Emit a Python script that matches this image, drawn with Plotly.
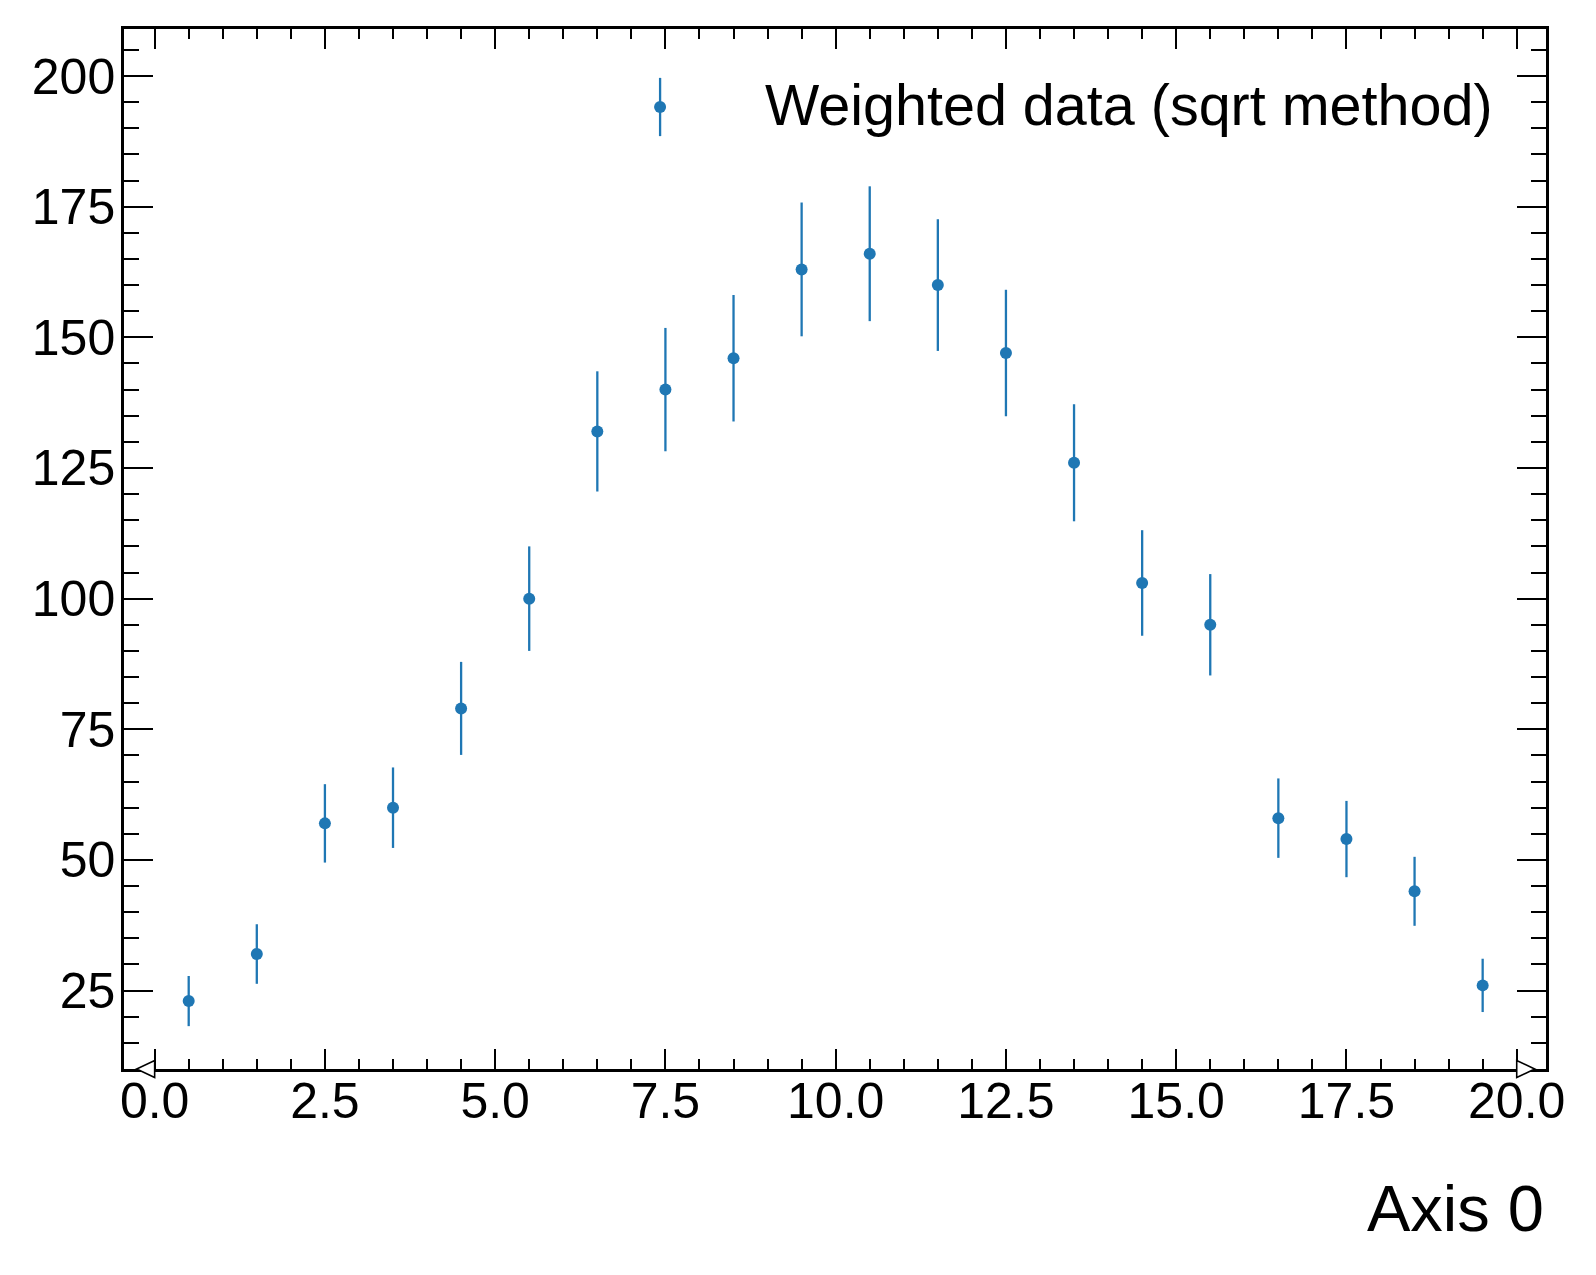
import plotly.graph_objects as go

# bin centres, weighted counts and their sqrt errors
bin_centers = [0.5, 1.5, 2.5, 3.5, 4.5, 5.5, 6.5, 7.5, 8.5, 9.5,
               10.5, 11.5, 12.5, 13.5, 14.5, 15.5, 16.5, 17.5, 18.5, 19.5]
counts = [23, 32, 57, 60, 79, 100, 132, 140, 146, 163,
          166, 160, 147, 126, 103, 95, 58, 54, 44, 26]
errors = [4.8, 5.7, 7.5, 7.7, 8.9, 10.0, 11.5, 11.8, 12.1, 12.8,
          12.9, 12.6, 12.1, 11.2, 10.1, 9.7, 7.6, 7.3, 6.6, 5.1]
flow_edges = [0.0, 20.0]
x_ticks = [0.0, 2.5, 5.0, 7.5, 10.0, 12.5, 15.0, 17.5, 20.0]
y_ticks = [25, 50, 75, 100, 125, 150, 175, 200]

legend_label = "Weighted data (sqrt method)"
x_title = "Axis 0"

BLUE = "#1f77b4"
FONT = "Liberation Sans, Arial, sans-serif"

fig = go.Figure()

fig.add_trace(go.Scatter(
    x=bin_centers, y=counts, mode="markers",
    marker=dict(color=BLUE, size=12),
    error_y=dict(type="data", array=errors, width=0, thickness=2.3, color=BLUE),
    showlegend=False, hoverinfo="x+y"))

# legend entry drawn on a hidden overlay axis so the error bar shows up
fig.add_trace(go.Scatter(
    x=[0.377], y=[0.925], mode="markers", xaxis="x2", yaxis="y2",
    marker=dict(color=BLUE, size=12),
    error_y=dict(type="data", array=[0.028], width=0, thickness=2.3, color=BLUE),
    showlegend=False, hoverinfo="skip"))

# flow-bin triangles at both ends of the x axis
shapes = []
for edge, path in zip(flow_edges, ["M0,-8.5 L-18,0 L0,8.5 Z", "M0,-8.5 L18,0 L0,8.5 Z"]):
    shapes.append(dict(type="path", xref="x", yref="paper", xsizemode="pixel",
                       ysizemode="pixel", xanchor=edge, yanchor=0, path=path,
                       line=dict(color="black", width=1.6), fillcolor="white",
                       layer="above"))

axis_common = dict(showline=True, linecolor="black", linewidth=2.5, mirror="ticks",
                   ticks="inside", tickcolor="black", tickwidth=2,
                   showgrid=False, zeroline=False,
                   tickfont=dict(family=FONT, size=50, color="black"))

# page body has an 8px margin, so the figure is a little smaller than the window
fig.update_layout(
    width=1588, height=1267,
    margin=dict(l=116, r=50, t=21, b=206),
    paper_bgcolor="white", plot_bgcolor="white",
    font=dict(family=FONT, color="black"),
    shapes=shapes,
    xaxis=dict(range=[-0.45, 20.43], tickvals=x_ticks,
               ticktext=[f"{v:.1f}" for v in x_ticks], ticklen=20,
               ticklabelstandoff=-14,
               minor=dict(dtick=0.5, tick0=0, ticks="inside", ticklen=10,
                          tickwidth=2, tickcolor="black"),
               **axis_common),
    yaxis=dict(range=[10, 209], tickvals=y_ticks, ticklen=29,
               ticklabelstandoff=-4,
               minor=dict(dtick=5, tick0=0, ticks="inside", ticklen=15,
                          tickwidth=2, tickcolor="black"),
               **axis_common),
    xaxis2=dict(range=[0, 1], overlaying="x", visible=False),
    yaxis2=dict(range=[0, 1], overlaying="y", visible=False),
    annotations=[
        dict(text=legend_label, xref="paper", yref="paper", x=0.964, y=0.927,
             xanchor="right", yanchor="middle", showarrow=False,
             font=dict(family=FONT, size=57.5, color="black")),
        dict(text=x_title, xref="paper", yref="paper", x=1.0, y=-0.134,
             xanchor="right", yanchor="middle", showarrow=False,
             font=dict(family=FONT, size=65, color="black")),
    ],
)

fig.write_html("out.html")
